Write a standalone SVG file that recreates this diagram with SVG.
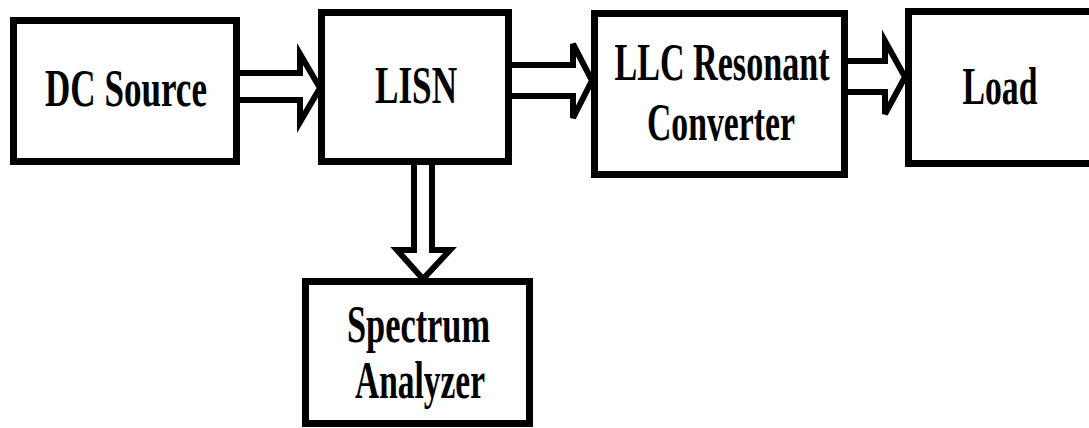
<svg xmlns="http://www.w3.org/2000/svg" width="1089" height="428" viewBox="0 0 1089 428">
  <style>
    .box { fill: #ffffff; stroke: #000000; stroke-width: 7; }
    .lbl { font-family: "Liberation Serif", "Times New Roman", serif; font-weight: bold; font-size: 52px; fill: #000000; text-anchor: middle; }
    .arrow { fill: #ffffff; stroke: #000000; stroke-width: 6; stroke-linejoin: miter; }
  </style>
  <rect width="1089" height="428" fill="#ffffff"/>

  <!-- block arrows -->
  <g id="connectors">
    <path class="arrow" d="M240,73 H300 V54 L320,88 L300,122 V100 H240"/>
    <path class="arrow" d="M512,65 H573 V44 L592,80.5 L573,118 V96 H512"/>
    <path class="arrow" d="M848,61 H885 V41 L905,77 L885,114 V92 H848"/>
    <path class="arrow" d="M414,165 V250 H397 L423,279 L450,250 H432 V165"/>
  </g>

  <g id="dc-source">
    <rect class="box" x="13.5" y="20.5" width="223" height="141"/>
    <text class="lbl" x="126" y="106" textLength="162" lengthAdjust="spacingAndGlyphs">DC Source</text>
  </g>

  <g id="lisn">
    <rect class="box" x="321.5" y="12.5" width="187" height="149"/>
    <text class="lbl" x="416" y="103" textLength="82" lengthAdjust="spacingAndGlyphs">LISN</text>
  </g>

  <g id="llc-converter">
    <rect class="box" x="594.5" y="13.5" width="250" height="161"/>
    <text class="lbl" x="722" y="80" textLength="215" lengthAdjust="spacingAndGlyphs">LLC Resonant</text>
    <text class="lbl" x="721" y="140" textLength="148" lengthAdjust="spacingAndGlyphs">Converter</text>
  </g>

  <g id="load">
    <rect class="box" x="908.5" y="11.5" width="200" height="152"/>
    <text class="lbl" x="1000" y="104" textLength="75" lengthAdjust="spacingAndGlyphs">Load</text>
  </g>

  <g id="spectrum-analyzer">
    <rect class="box" x="305.5" y="281.5" width="224" height="142"/>
    <text class="lbl" x="418.5" y="342" textLength="143" lengthAdjust="spacingAndGlyphs">Spectrum</text>
    <text class="lbl" x="420" y="398" textLength="130" lengthAdjust="spacingAndGlyphs">Analyzer</text>
  </g>
</svg>
